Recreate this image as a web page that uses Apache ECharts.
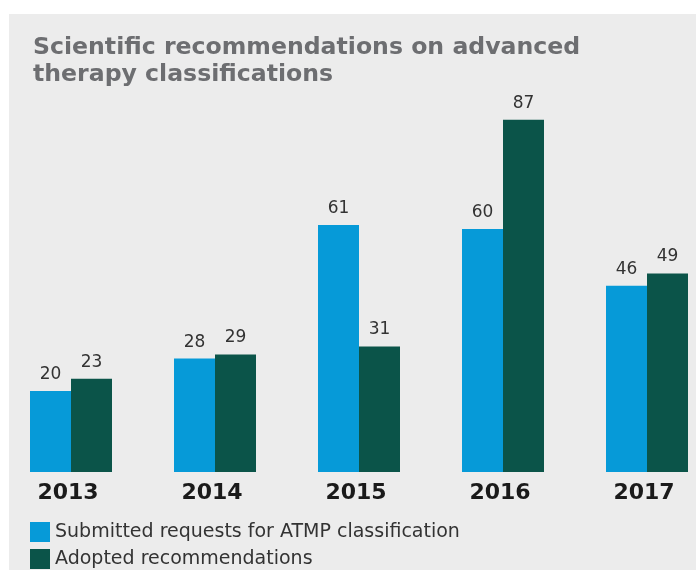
<!DOCTYPE html>
<html>
<head>
<meta charset="utf-8">
<script src="https://cdn.jsdelivr.net/npm/echarts@6/dist/echarts.min.js"></script>
<style>
  html, body { margin: 0; padding: 0; background: #ffffff; }
  #chart { width: 696px; height: 570px; }
</style>
</head>
<body>
<div id="chart"></div>
<script>
  // data
  var years = ['2013', '2014', '2015', '2016', '2017'];
  var submitted = [20, 28, 61, 60, 46];
  var adopted = [23, 29, 31, 87, 49];
  var seriesNames = ['Submitted requests for ATMP classification', 'Adopted recommendations'];

  var font = '"DejaVu Sans", Verdana, sans-serif';
  var chart = echarts.init(document.getElementById('chart'));

  var option = {
    backgroundColor: '#ffffff',
    animation: false,
    graphic: [{
      type: 'rect',
      z: -10,
      shape: { x: 9, y: 14, width: 700, height: 570 },
      style: { fill: '#ececec' }
    }],
    title: {
      text: 'Scientific recommendations on advanced\ntherapy classifications',
      left: 28,
      top: 29,
      textStyle: {
        fontFamily: font,
        fontSize: 23.6,
        fontWeight: 'bold',
        color: '#6d6e71',
        lineHeight: 27
      }
    },
    legend: {
      orient: 'vertical',
      left: 30,
      top: 522,
      padding: 0,
      itemWidth: 20,
      itemHeight: 20,
      itemGap: 7,
      icon: 'rect',
      data: seriesNames,
      textStyle: { fontFamily: font, fontSize: 19, color: '#333333', padding: [6, 0, 0, 0] }
    },
    grid: { left: -1, right: -23, top: 67, bottom: 98, outerBoundsMode: 'none' },
    xAxis: {
      type: 'category',
      data: years,
      axisLine: { show: false },
      axisTick: { show: false },
      axisLabel: {
        margin: 10,
        padding: [0, 6, 0, 0],
        fontFamily: font,
        fontSize: 22,
        fontWeight: 'bold',
        color: '#1a1a1a'
      }
    },
    yAxis: {
      type: 'value',
      min: 0,
      max: 100,
      show: false,
      splitLine: { show: false }
    },
    series: [{
      name: seriesNames[0],
      type: 'bar',
      data: submitted,
      barWidth: 41,
      barGap: '0%',
      itemStyle: { color: '#069ad8' },
      label: { show: true, position: 'top', distance: 8, fontFamily: font, fontSize: 17, color: '#333333' }
    }, {
      name: seriesNames[1],
      type: 'bar',
      data: adopted,
      barWidth: 41,
      barGap: '0%',
      itemStyle: { color: '#0b5449' },
      label: { show: true, position: 'top', distance: 8, fontFamily: font, fontSize: 17, color: '#333333' }
    }]
  };

  chart.setOption(option);
</script>
</body>
</html>
